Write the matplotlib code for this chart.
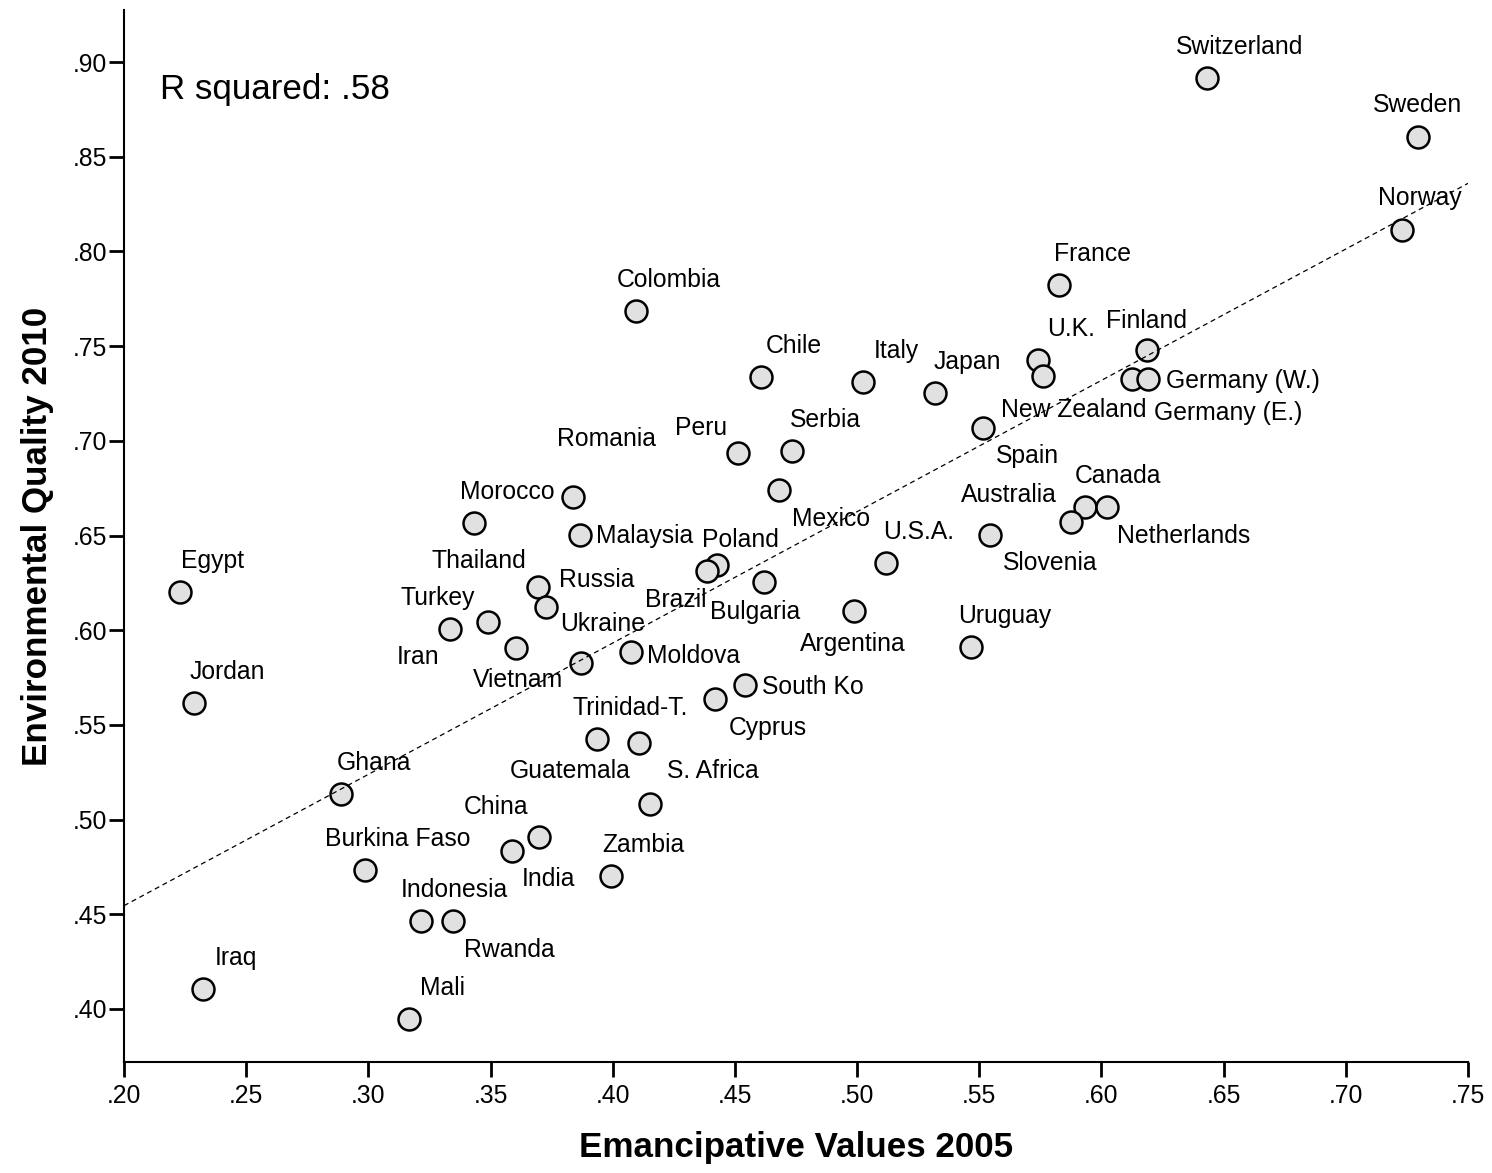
import matplotlib
matplotlib.use("Agg")
import matplotlib.pyplot as plt
from matplotlib.ticker import FuncFormatter, MultipleLocator
import numpy as np

plt.rcParams['font.family'] = ['Liberation Sans', 'DejaVu Sans']

# country data
countries = ["Switzerland", "Sweden", "Norway", "France", "Colombia", "Finland", "U.K.",
             "New Zealand", "Germany (E.)", "Germany (W.)", "Chile", "Italy", "Japan", "Spain",
             "Peru", "Serbia", "Mexico", "Romania", "Morocco", "Malaysia", "Canada",
             "Netherlands", "Australia", "Slovenia", "Brazil", "Poland", "U.S.A.", "Bulgaria",
             "Thailand", "Russia", "Argentina", "Iran", "Turkey", "Vietnam", "Ukraine",
             "Moldova", "Uruguay", "South Ko", "Cyprus", "Egypt", "Jordan", "Trinidad-T.",
             "Guatemala", "Ghana", "S. Africa", "China", "India", "Burkina Faso", "Zambia",
             "Indonesia", "Rwanda", "Iraq", "Mali"]
emancipative = [0.643, 0.7295, 0.7229, 0.5827, 0.4095, 0.6185, 0.5739,
                0.5759, 0.6127, 0.6189, 0.4605, 0.5025, 0.5318, 0.5516,
                0.4514, 0.4734, 0.4681, 0.3838, 0.3432, 0.3866, 0.5932,
                0.6023, 0.5874, 0.5543, 0.4425, 0.4387, 0.5117, 0.4619,
                0.3695, 0.3725, 0.4987, 0.3334, 0.3488, 0.3604, 0.3872,
                0.4074, 0.5468, 0.4541, 0.4418, 0.2229, 0.2286, 0.3937,
                0.4106, 0.2888, 0.4151, 0.3699, 0.3587, 0.2985, 0.3992,
                0.3217, 0.3345, 0.2322, 0.3167]
env_quality = [0.8916, 0.8604, 0.8113, 0.7823, 0.7685, 0.7479, 0.7427,
               0.7342, 0.7325, 0.7325, 0.7335, 0.7313, 0.7254, 0.7066,
               0.6937, 0.6946, 0.6740, 0.6705, 0.6566, 0.6503, 0.6649,
               0.6649, 0.6573, 0.6503, 0.6344, 0.6314, 0.6353, 0.6253,
               0.6226, 0.6124, 0.6104, 0.6005, 0.6045, 0.5904, 0.5825,
               0.5883, 0.5913, 0.5711, 0.5637, 0.6203, 0.5616, 0.5424,
               0.5406, 0.5135, 0.5082, 0.4907, 0.4836, 0.4734, 0.4702,
               0.4466, 0.4466, 0.4104, 0.3946]
r_squared_text = "R squared: .58"

# label placement (pixel offsets from the point, right / down)
std = (33, -31)
label_offsets = {
    "Sweden": (0, -32), "Norway": (18, -32), "Finland": (0, -29),
    "New Zealand": (31, 34), "Germany (E.)": (96, 34), "Germany (W.)": (95, 2),
    "Spain": (44, 28), "Peru": (-37, -25), "Mexico": (52, 29), "Romania": (33, -58),
    "Malaysia": (65, 1), "Netherlands": (77, 29), "Australia": (-62, -27),
    "Slovenia": (60, 28), "Brazil": (-41, 35), "Bulgaria": (-9, 30),
    "Thailand": (-59, -26), "Russia": (51, -27), "Argentina": (-1, 33),
    "Iran": (-32, 28), "Turkey": (-50, -24), "Vietnam": (2, 32), "Ukraine": (21, -39),
    "Moldova": (63, 4), "South Ko": (68, 2), "Cyprus": (53, 29),
    "Guatemala": (-68, 28), "S. Africa": (63, -33), "China": (-43, -30),
    "India": (37, 28), "Rwanda": (57, 29),
}

fig = plt.figure(figsize=(14.92, 11.73), dpi=100)
ax = fig.add_axes([124 / 1492, 1 - 1062 / 1173, 1344 / 1492, 1052 / 1173])

x = np.array(emancipative)
y = np.array(env_quality)

ax.scatter(x, y, s=250, facecolor='#e1e1e1', edgecolor='black', linewidth=1.8, zorder=3)

for name, xi, yi in zip(countries, x, y):
    dx, dy = label_offsets.get(name, std)
    ax.annotate(name, (xi, yi), xytext=(dx, -dy), textcoords='offset pixels',
                ha='center', va='center', fontsize=17.8, zorder=4)

# fit line
slope, intercept = np.polyfit(x, y, 1)
xs = np.array([0.20, 0.75])
ax.plot(xs, intercept + slope * xs, color='black', lw=0.9, ls=(0, (4, 3)), zorder=5)

ax.text((160 - 124) / 1344, (1062 - 99) / 1052, r_squared_text,
        transform=ax.transAxes, fontsize=25.2, va='baseline', ha='left')

ax.set_xlim(0.20, 0.75)
ax.set_ylim(0.372, 0.9275)
ax.xaxis.set_major_locator(MultipleLocator(0.05))
ax.yaxis.set_major_locator(MultipleLocator(0.05))
fmt = FuncFormatter(lambda v, p: ("%.2f" % v)[1:] if v < 1 else "%.2f" % v)
ax.xaxis.set_major_formatter(fmt)
ax.yaxis.set_major_formatter(fmt)

for s in ['top', 'right']:
    ax.spines[s].set_visible(False)
for s in ['left', 'bottom']:
    ax.spines[s].set_linewidth(1.5)
ax.tick_params(axis='both', direction='out', length=10.5, width=2, labelsize=17.8)
ax.tick_params(axis='y', pad=1.5)
ax.tick_params(axis='x', pad=5)

ax.set_xlabel("Emancipative Values 2005", fontsize=25.2, fontweight='bold')
ax.set_ylabel("Environmental Quality 2010", fontsize=25.2, fontweight='bold')
ax.xaxis.set_label_coords(0.5, -(1131 - 1062) / 1052)
ax.yaxis.set_label_coords(-(124 - 54) / 1344, 0.5)

fig.savefig("out.png", dpi=100)
